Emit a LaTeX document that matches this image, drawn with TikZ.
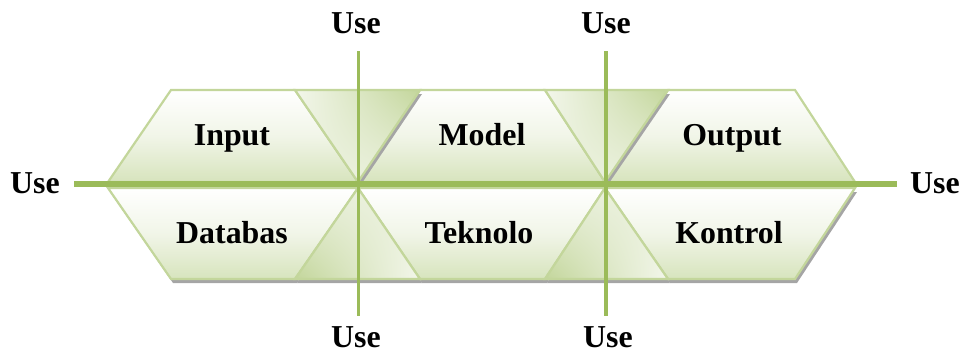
\documentclass[tikz,border=0pt]{standalone}
\usepackage{fontspec}
\setmainfont{Liberation Serif}
\usetikzlibrary{shadings}
\definecolor{linegreen}{HTML}{9BBB59}
\definecolor{edgegreen}{HTML}{C3D69B}
\definecolor{fillgreen}{HTML}{D7E4BD}
\definecolor{lightgreen}{HTML}{EBF1DE}
\definecolor{shadowgray}{HTML}{A5A5A5}
\begin{document}
\begin{tikzpicture}[x=1bp,y=-1bp,
  trap/.style={top color=white, bottom color=fillgreen, middle color=lightgreen!70!white, draw=edgegreen, line width=2.2bp, line join=miter},
  tritop/.style={upper left=lightgreen!60!white, lower left=lightgreen, lower right=lightgreen, upper right=edgegreen, draw=edgegreen, line width=2.2bp},
  tribot/.style={upper left=lightgreen, upper right=lightgreen, lower right=lightgreen!60!white, lower left=edgegreen, draw=edgegreen, line width=2.2bp},
  shadowfill/.style={fill=shadowgray, shift={(2,4)}},
  mainline/.style={draw=linegreen, line width=6bp},
  crossline/.style={draw=linegreen, line width=3.5bp},
  lbl/.style={font=\fontsize{32}{38}\selectfont\bfseries, inner sep=0pt, anchor=base},
  uselbl/.style={font=\fontsize{32}{38}\selectfont\bfseries, inner sep=0pt, anchor=base}
]
\useasboundingbox (0,0) rectangle (961,354);

% ---------- top row ----------
\shade[trap] (171,90) -- (295,90) -- (358,182) -- (108,182) -- cycle;
\shade[trap] (420,90) -- (545,90) -- (605,182) -- (358,182) -- cycle;
\shade[trap] (668,90) -- (795,90) -- (855,182) -- (605,182) -- cycle;
\fill[shadowfill] (295,90) -- (420,90) -- (358,182) -- cycle;
\shade[tritop] (295,90) -- (420,90) -- (358,182) -- cycle;
\fill[shadowfill] (545,90) -- (668,90) -- (605,182) -- cycle;
\shade[tritop] (545,90) -- (668,90) -- (605,182) -- cycle;

% ---------- bottom row ----------
\fill[shadowfill] (108,188) -- (358,188) -- (295,279) -- (171,279) -- cycle;
\fill[shadowfill] (358,188) -- (420,279) -- (295,279) -- cycle;
\fill[shadowfill] (358,188) -- (605,188) -- (545,279) -- (420,279) -- cycle;
\fill[shadowfill] (605,188) -- (668,279) -- (545,279) -- cycle;
\fill[shadowfill] (605,188) -- (855,188) -- (795,279) -- (668,279) -- cycle;
\shade[trap] (108,188) -- (358,188) -- (295,279) -- (171,279) -- cycle;
\shade[trap] (358,188) -- (605,188) -- (545,279) -- (420,279) -- cycle;
\shade[trap] (605,188) -- (855,188) -- (795,279) -- (668,279) -- cycle;
\shade[tribot] (358,188) -- (420,279) -- (295,279) -- cycle;
\shade[tribot] (605,188) -- (668,279) -- (545,279) -- cycle;

% ---------- labels in the shapes ----------
\node[lbl] (input) at (232,145) {Input};
\node[lbl] (model) at (482,145) {Model};
\node[lbl] (output) at (732,145) {Output};
\node[lbl] (databas) at (232,243) {Databas};
\node[lbl] (teknolo) at (479,243) {Teknolo};
\node[lbl] (kontrol) at (729,243) {Kontrol};

% ---------- axis ends ----------
\coordinate (hl) at (74,184);
\coordinate (hr) at (897,184);
\coordinate (v1t) at (358.5,51);
\coordinate (v1b) at (358.5,316);
\coordinate (v2t) at (606,51);
\coordinate (v2b) at (606,316);

\draw[mainline] (hl) -- (hr);
\draw[crossline] (v1t) -- (v1b);
\draw[crossline] (v2t) -- (v2b);

% ---------- Use labels ----------
\node[uselbl] (useL) at (35,193) {Use};
\node[uselbl] (useR) at (935,193) {Use};
\node[uselbl] (useT1) at (356,33) {Use};
\node[uselbl] (useT2) at (606,33) {Use};
\node[uselbl] (useB1) at (356,347) {Use};
\node[uselbl] (useB2) at (608,347) {Use};
\end{tikzpicture}
\end{document}
